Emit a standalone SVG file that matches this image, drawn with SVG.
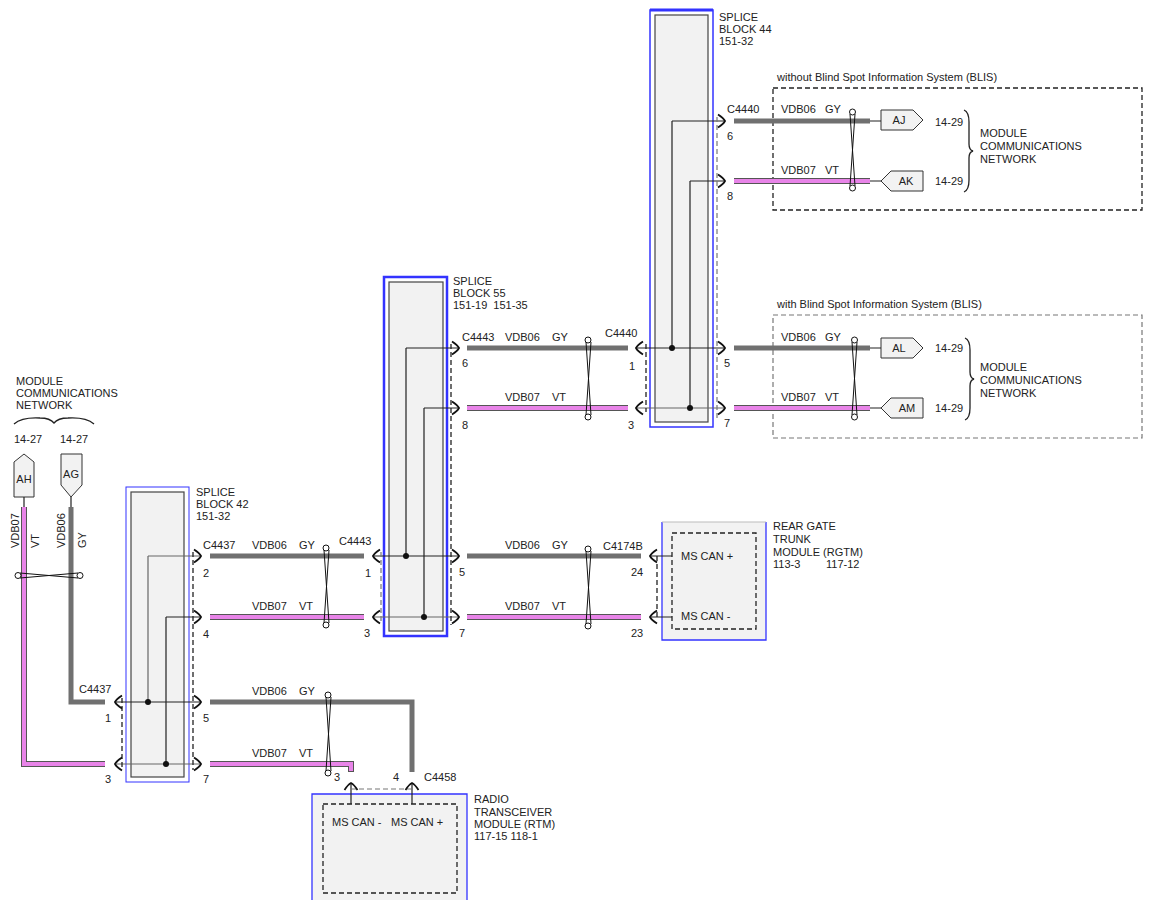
<svg xmlns="http://www.w3.org/2000/svg" xmlns:xlink="http://www.w3.org/1999/xlink" width="1153" height="911" viewBox="0 0 1153 911">
<style>
.t{font-family:"Liberation Sans",Arial,sans-serif;font-size:11px;fill:#222;white-space:pre}
.tm{text-anchor:middle}
.gy{stroke:#707070;stroke-width:5;fill:none}
.vto{stroke:#555;stroke-width:6;fill:none}
.vt{stroke:#e884e8;stroke-width:4;fill:none}
.ln{stroke:#222;stroke-width:1.2;fill:none}
.lg{stroke:#666;stroke-width:1.2;fill:none}
.ds{stroke:#222;stroke-width:1.3;stroke-dasharray:5,3;fill:none}
.dsg{stroke:#777;stroke-width:1.2;stroke-dasharray:5,3;fill:none}
.sbi{fill:#f2f2f2;stroke:#444;stroke-width:1.2}
.blue{fill:none;stroke:#3333ff}
.dot{fill:#111}
.ch{stroke:#111;stroke-width:1.8;fill:none}
.tw{stroke:#111;stroke-width:1;fill:none}
.twc{stroke:#111;stroke-width:1;fill:#fff}
.tag{fill:#f2f2f2;stroke:#333;stroke-width:1}
.mod{fill:#f2f2f2}
.br{stroke:#222;stroke-width:1.3;fill:none}
</style>
<defs>
<path id="chR" class="ch" d="M-7,-6.5 Q-1.5,-3 0,0 Q-1.5,3 -7,6.5"/>
<path id="chL" class="ch" d="M7,-6.5 Q1.5,-3 0,0 Q1.5,3 7,6.5"/>
<path id="chU" class="ch" d="M-6.5,7 Q-3,1.5 0,0 Q3,1.5 6.5,7"/>
</defs>

<g id="splice44">
<rect class="sbi" x="655" y="15" width="53" height="407"/>
<rect class="blue" x="650" y="10" width="63" height="417" stroke-width="1.5"/>
<line x1="650" y1="10" x2="713" y2="10" stroke="#3333ff" stroke-width="3"/>
<text class="t" x="719" y="21">SPLICE</text>
<text class="t" x="719" y="33">BLOCK 44</text>
<text class="t" x="719" y="45">151-32</text>
</g>

<g id="splice55">
<rect class="sbi" x="389" y="282" width="54" height="349"/>
<rect class="blue" x="384" y="277" width="63" height="359" stroke-width="2.5"/>
<text class="t" x="453" y="285">SPLICE</text>
<text class="t" x="453" y="297">BLOCK 55</text>
<text class="t" x="453" y="309" xml:space="preserve">151-19  151-35</text>
</g>

<g id="splice42">
<rect class="sbi" x="131" y="492" width="53" height="285"/>
<rect class="blue" x="126" y="487" width="63" height="295" stroke-width="1"/>
<text class="t" x="196" y="496">SPLICE</text>
<text class="t" x="196" y="508">BLOCK 42</text>
<text class="t" x="196" y="520">151-32</text>
</g>

<g id="noblis">
<rect x="773" y="88" width="369" height="122" class="ds"/>
<text class="t" x="777" y="81">without Blind Spot Information System (BLIS)</text>
<path class="tag" d="M881,110 H913 L923,120 L913,130 H881 Z"/>
<text class="t tm" x="899" y="124">AJ</text>
<path class="tag" d="M881,181 L891,171 H923 V191 H891 Z"/>
<text class="t tm" x="906" y="185">AK</text>
<text class="t" x="935" y="126">14-29</text>
<text class="t" x="935" y="185">14-29</text>
<path class="br" d="M964,110 Q969,112 969,122 V144 Q969,150 973,151 Q969,152 969,158 V180 Q969,190 964,192"/>
<text class="t" x="980" y="137">MODULE</text>
<text class="t" x="980" y="150">COMMUNICATIONS</text>
<text class="t" x="980" y="163">NETWORK</text>
</g>

<g id="blis">
<rect x="773" y="315" width="369" height="123" class="dsg"/>
<text class="t" x="777" y="308">with Blind Spot Information System (BLIS)</text>
<path class="tag" d="M881,338 H913 L923,348 L913,358 H881 Z"/>
<text class="t tm" x="899" y="352">AL</text>
<path class="tag" d="M881,408 L891,398 H923 V418 H891 Z"/>
<text class="t tm" x="907" y="412">AM</text>
<text class="t" x="935" y="352">14-29</text>
<text class="t" x="935" y="412">14-29</text>
<path class="br" d="M965,338 Q970,340 970,350 V372 Q970,378 974,379 Q970,380 970,386 V408 Q970,418 965,420"/>
<text class="t" x="980" y="371">MODULE</text>
<text class="t" x="980" y="384">COMMUNICATIONS</text>
<text class="t" x="980" y="397">NETWORK</text>
</g>

<g id="rgtm">
<rect class="mod" x="662" y="522" width="104" height="118"/>
<path d="M662,522 V640 H766 V522" fill="none" stroke="#3333ff" stroke-width="1.3"/>
<line x1="662" y1="522" x2="766" y2="522" stroke="#bbb" stroke-width="1"/>
<rect x="672" y="533" width="84" height="96" class="ds"/>
<text class="t" x="681" y="560">MS CAN +</text>
<text class="t" x="681" y="620">MS CAN -</text>
<text class="t" x="773" y="530">REAR GATE</text>
<text class="t" x="773" y="543">TRUNK</text>
<text class="t" x="773" y="556">MODULE (RGTM)</text>
<text class="t" x="773" y="568">113-3<tspan x="826">117-12</tspan></text>
</g>

<g id="rtm">
<rect class="mod" x="312" y="794" width="155" height="106"/>
<path d="M312,900 V794 H467 V900" fill="none" stroke="#3333ff" stroke-width="1.3"/>
<rect x="323" y="804" width="134" height="89" class="ds"/>
<text class="t" x="332" y="826">MS CAN -</text>
<text class="t" x="391" y="826">MS CAN +</text>
<text class="t" x="474" y="803">RADIO</text>
<text class="t" x="474" y="816">TRANSCEIVER</text>
<text class="t" x="474" y="828">MODULE (RTM)</text>
<text class="t" x="474" y="840">117-15 118-1</text>
</g>

<g id="mcn-left">
<text class="t" x="16" y="385">MODULE</text>
<text class="t" x="16" y="397">COMMUNICATIONS</text>
<text class="t" x="16" y="409">NETWORK</text>
<path class="br" d="M14,424 Q22,417 40,418 Q50,418 54,423 Q58,418 68,418 Q86,417 94,424"/>
<text class="t" x="14" y="443">14-27</text>
<text class="t" x="60" y="443">14-27</text>
</g>
<g id="AH">
<path class="tag" d="M14,462 L24,454 L34,462 V497 H14 Z"/>
<text class="t tm" x="24" y="483">AH</text>
</g>
<g id="AG">
<path class="tag" d="M61,454 H82 V485 L71,497 L61,485 Z"/>
<text class="t tm" x="71" y="478">AG</text>
</g>

<g id="connectors">
<path class="ln" d="M672,121 H724 M672,121 V348 M690,181 H724 M690,181 V408 M637,348 H724"/>
<path class="lg" d="M637,408 H724"/>
<circle class="dot" cx="672" cy="348" r="3"/>
<circle class="dot" cx="690" cy="408" r="3"/>
<path class="ln" d="M406,348 H458 M406,348 V556 M424,408 H458 M424,408 V617 M373,556 H458"/>
<path class="lg" d="M373,617 H458"/>
<circle class="dot" cx="406" cy="556" r="3"/>
<circle class="dot" cx="424" cy="617" r="3"/>
<path class="lg" d="M148,556 H200 M148,556 V702"/>
<path class="ln" d="M166,617 H200 M166,617 V764 M115,702 H200"/>
<path class="lg" d="M115,764 H200"/>
<circle class="dot" cx="148" cy="702" r="3"/>
<circle class="dot" cx="166" cy="764" r="3"/>
<path class="ln" d="M650,556 H672 M650,617 H672 M351,783 V804 M412,783 V804 M870,121 H881 M870,181 H881 M870,348 H881 M870,408 H881 M24,497 V507 M71,497 V507"/>

<path class="ds" d="M122,698 V768"/>
<path class="ds" d="M193,552 V770" stroke-width="2"/>
<path class="dsg" d="M381,552 V621"/>
<path class="ds" d="M451,344 V625"/>
<path class="ds" d="M646,344 V412"/>
<path class="dsg" d="M717,117 V420"/>
<path class="ds" d="M657,556 V617" stroke-width="1"/>
<path class="dsg" d="M351,789 H412"/>

<path class="gy" d="M734,121 H870 M734,348 H870 M467,348 H628 M467,556 H641 M210,556 H364"/>
<path class="gy" d="M210,702 H412 V772"/>
<path class="gy" d="M71,507 V702 H105" stroke-width="6"/>
<path class="vto" d="M734,181 H870 M734,408 H870 M467,408 H628 M467,617 H641 M210,617 H364 M210,764 H351 V772 M24,507 V764 H105"/>
<path class="vt" d="M734,181 H870 M734,408 H870 M467,408 H628 M467,617 H641 M210,617 H364 M210,764 H351 V771 M24,507 V764 H105"/>

<use href="#chR" x="725" y="121"/>
<use href="#chR" x="725" y="181"/>
<use href="#chR" x="725" y="348"/>
<use href="#chR" x="725" y="408"/>
<use href="#chL" x="636" y="348"/>
<use href="#chL" x="636" y="408"/>
<use href="#chR" x="459" y="348"/>
<use href="#chR" x="459" y="408"/>
<use href="#chR" x="459" y="556"/>
<use href="#chR" x="459" y="617"/>
<use href="#chL" x="373" y="556"/>
<use href="#chL" x="373" y="617"/>
<use href="#chR" x="201" y="556"/>
<use href="#chR" x="201" y="617"/>
<use href="#chR" x="201" y="702"/>
<use href="#chR" x="201" y="764"/>
<use href="#chL" x="115" y="702"/>
<use href="#chL" x="115" y="764"/>
<use href="#chL" x="650" y="556"/>
<use href="#chL" x="650" y="617"/>
<use href="#chU" x="351" y="783"/>
<use href="#chU" x="412" y="783"/>

<path class="tw" d="M850,114 L855,186 M855,114 L850,186"/>
<circle class="twc" cx="852.5" cy="112" r="3"/><circle class="twc" cx="852.5" cy="188" r="3"/>
<path class="tw" d="M852,342 L857,415 M857,342 L852,415"/>
<circle class="twc" cx="854.5" cy="340" r="3"/><circle class="twc" cx="854.5" cy="417" r="3"/>
<path class="tw" d="M586,342 L591,415 M591,342 L586,415"/>
<circle class="twc" cx="588" cy="340" r="3"/><circle class="twc" cx="588" cy="417" r="3"/>
<path class="tw" d="M586,551 L591,624 M591,551 L586,624"/>
<circle class="twc" cx="588" cy="549" r="3"/><circle class="twc" cx="588" cy="626" r="3"/>
<path class="tw" d="M324,550 L329,623 M329,550 L324,623"/>
<circle class="twc" cx="326" cy="548" r="3"/><circle class="twc" cx="326" cy="625" r="3"/>
<path class="tw" d="M326,697 L331,771 M331,697 L326,771"/>
<circle class="twc" cx="328" cy="695" r="3"/><circle class="twc" cx="328" cy="773" r="3"/>
<path class="tw" d="M20,573 L78,578 M20,578 L78,573"/>
<circle class="twc" cx="18" cy="575.5" r="3"/><circle class="twc" cx="80" cy="575.5" r="3"/>

<text class="t" x="727" y="113">C4440</text>
<text class="t" x="781" y="113">VDB06</text>
<text class="t" x="825" y="113">GY</text>
<text class="t" x="727" y="140">6</text>
<text class="t" x="781" y="174">VDB07</text>
<text class="t" x="825" y="174">VT</text>
<text class="t" x="727" y="200">8</text>
<text class="t" x="781" y="341">VDB06</text>
<text class="t" x="825" y="341">GY</text>
<text class="t" x="724" y="367">5</text>
<text class="t" x="781" y="401">VDB07</text>
<text class="t" x="825" y="401">VT</text>
<text class="t" x="724" y="427">7</text>

<text class="t" x="462" y="341">C4443</text>
<text class="t" x="505" y="341">VDB06</text>
<text class="t" x="552" y="341">GY</text>
<text class="t" x="605" y="337">C4440</text>
<text class="t" x="462" y="367">6</text>
<text class="t" x="629" y="370">1</text>
<text class="t" x="505" y="401">VDB07</text>
<text class="t" x="552" y="401">VT</text>
<text class="t" x="462" y="429">8</text>
<text class="t" x="628" y="429">3</text>

<text class="t" x="505" y="549">VDB06</text>
<text class="t" x="552" y="549">GY</text>
<text class="t" x="603" y="550">C4174B</text>
<text class="t" x="459" y="576">5</text>
<text class="t" x="631" y="576">24</text>
<text class="t" x="505" y="610">VDB07</text>
<text class="t" x="552" y="610">VT</text>
<text class="t" x="459" y="637">7</text>
<text class="t" x="631" y="637">23</text>

<text class="t" x="203" y="549">C4437</text>
<text class="t" x="252" y="549">VDB06</text>
<text class="t" x="299" y="549">GY</text>
<text class="t" x="339" y="545">C4443</text>
<text class="t" x="203" y="577">2</text>
<text class="t" x="365" y="577">1</text>
<text class="t" x="252" y="610">VDB07</text>
<text class="t" x="299" y="610">VT</text>
<text class="t" x="203" y="638">4</text>
<text class="t" x="364" y="637">3</text>

<text class="t" x="252" y="695">VDB06</text>
<text class="t" x="299" y="695">GY</text>
<text class="t" x="203" y="722">5</text>
<text class="t" x="252" y="757">VDB07</text>
<text class="t" x="299" y="757">VT</text>
<text class="t" x="203" y="783">7</text>
<text class="t" x="334" y="781">3</text>
<text class="t" x="393" y="781">4</text>
<text class="t" x="424" y="781">C4458</text>

<text class="t" x="79" y="693">C4437</text>
<text class="t" x="105" y="722">1</text>
<text class="t" x="105" y="783">3</text>

<text class="t" transform="translate(18.5,548) rotate(-90)">VDB07</text>
<text class="t" transform="translate(38.5,548) rotate(-90)">VT</text>
<text class="t" transform="translate(65,548) rotate(-90)">VDB06</text>
<text class="t" transform="translate(86,548) rotate(-90)">GY</text>
</g>
</svg>
